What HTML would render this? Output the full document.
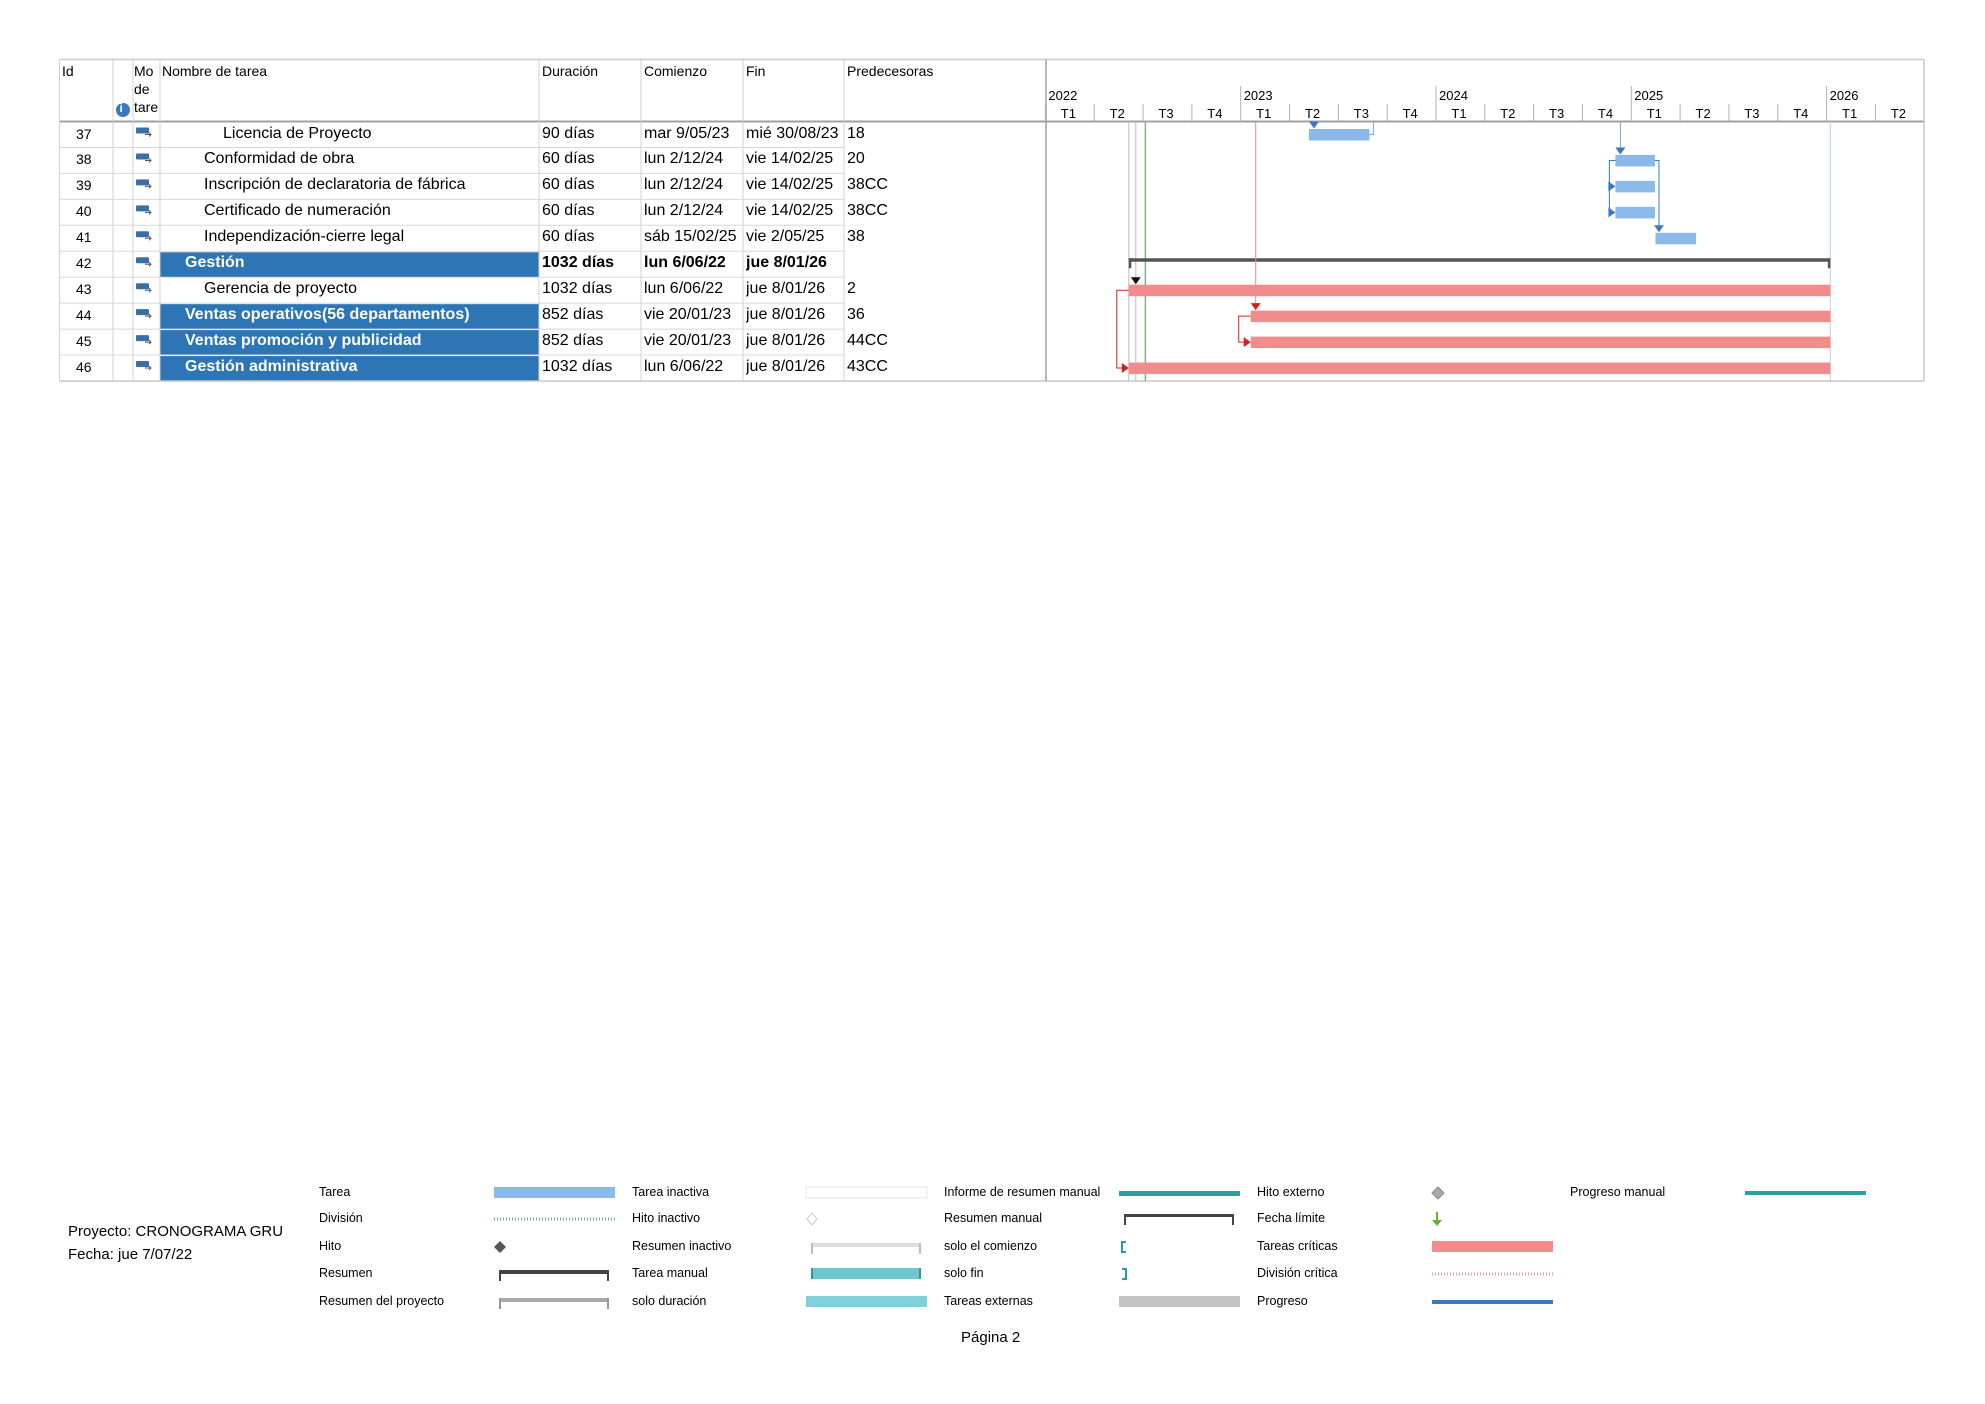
<!DOCTYPE html>
<html><head><meta charset="utf-8">
<style>
body{margin:0;background:#fff;font-family:"Liberation Sans",sans-serif;}
#root{position:relative;width:1985px;height:1404px;overflow:hidden;background:#fff;}
.t{position:absolute;white-space:nowrap;color:#000;}
.h{font-size:14px;}
.c{font-size:16px;}
.lg{font-size:12.5px;}
</style></head><body>
<div id="root">
<svg id="svg" width="1985" height="1404" style="position:absolute;left:0;top:0"></svg>
<div id="txt"></div>
</div>
<script>
const ids=["37","38","39","40","41","42","43","44","45","46"];
const names=["Licencia de Proyecto","Conformidad de obra","Inscripción de declaratoria de fábrica","Certificado de numeración","Independización-cierre legal","Gestión","Gerencia de proyecto","Ventas operativos(56 departamentos)","Ventas promoción y publicidad","Gestión administrativa"];
const indents=[2,1,1,1,1,0,1,0,0,0];
const durations=["90 días","60 días","60 días","60 días","60 días","1032 días","1032 días","852 días","852 días","1032 días"];
const startLabels=["mar 9/05/23","lun 2/12/24","lun 2/12/24","lun 2/12/24","sáb 15/02/25","lun 6/06/22","lun 6/06/22","vie 20/01/23","vie 20/01/23","lun 6/06/22"];
const endLabels=["mié 30/08/23","vie 14/02/25","vie 14/02/25","vie 14/02/25","vie 2/05/25","jue 8/01/26","jue 8/01/26","jue 8/01/26","jue 8/01/26","jue 8/01/26"];
const preds=["18","20","38CC","38CC","38","","2","36","44CC","43CC"];
const startDates=["2023-05-09","2024-12-02","2024-12-02","2024-12-02","2025-02-15","2022-06-06","2022-06-06","2023-01-20","2023-01-20","2022-06-06"];
const endDates=["2023-08-30","2025-02-14","2025-02-14","2025-02-14","2025-05-02","2026-01-08","2026-01-08","2026-01-08","2026-01-08","2026-01-08"];
const kinds=["task","task","task","task","task","summary","crit","crit","crit","crit"];
const highlighted=[false,false,false,false,false,true,false,true,true,true];
const years=["2022","2023","2024","2025","2026"];
const quarters=["T1","T2","T3","T4"];
const statusDate="2022-07-07";

const NS="http://www.w3.org/2000/svg";
const svg=document.getElementById('svg');
const txt=document.getElementById('txt');
const X0=1045.4,YEARW=195.3,T0=Date.UTC(2022,0,1);
function xd(s){const p=s.split('-');const d=Date.UTC(+p[0],+p[1]-1,+p[2]);return X0+(d-T0)/86400000/365.25*YEARW;}
const TOP=59.5,HB=121.5,RH=25.95;
function ry(i){return HB+i*RH;}
function el(tag,attrs,name){const e=document.createElementNS(NS,tag);for(const k in attrs)e.setAttribute(k,attrs[k]);


svg.appendChild(e);return e;}
function text(x,y,s,cls,name,style){const d=document.createElement('div');d.className='t '+cls;d.style.left=x+'px';d.style.top=y+'px';if(style)d.style.cssText+=style;d.textContent=s;


txt.appendChild(d);return d;}

// highlight cells
for(let i=0;i<ids.length;i++){if(highlighted[i])el('rect',{x:160,y:ry(i)+1,width:379,height:RH-1,fill:'#2e75b6'},'highlight-row-'+ids[i]);}
// grid
const colX=[59.5,113,133,160,539,641,743,844,1046];
el('line',{x1:59.5,y1:TOP,x2:1924,y2:TOP,stroke:'#c8c8c8','stroke-width':1.5},'top-border');
el('line',{x1:59.5,y1:HB,x2:1924,y2:HB,stroke:'#a0a0a0','stroke-width':2},'header-border');
el('line',{x1:59.5,y1:381,x2:1924,y2:381,stroke:'#c8c8c8','stroke-width':1.5},'bottom-border');
el('line',{x1:1924,y1:TOP,x2:1924,y2:381,stroke:'#c8c8c8','stroke-width':1.5},'right-border');
colX.forEach((x,k)=>el('line',{x1:x,y1:TOP,x2:x,y2:381,stroke:k==8?'#a0a0a0':'#d0d0d0','stroke-width':k==8?1.5:1},'column-divider'));
for(let i=1;i<ids.length;i++){el('line',{x1:59.5,y1:ry(i),x2:844,y2:ry(i),stroke:'#d8d8d8','stroke-width':1},'row-divider');}
// header text
text(62,63,'Id','h','id-header');
text(134,63,'Mo','h','mode-header',';width:26px;overflow:hidden');
text(134,81,'de','h','mode-header-2');
text(134,99,'tare','h','mode-header-3',';width:26px;overflow:hidden');
el('circle',{cx:123,cy:110,r:7,fill:'#3b78c2'},'info-icon');
text(119.5,101,'i','h','info-glyph',';color:#fff;font-weight:bold;font-size:12px');
text(162,63,'Nombre de tarea','h','name-header');
text(542,63,'Duración','h','duration-header');
text(644,63,'Comienzo','h','start-header');
text(746,63,'Fin','h','end-header');
text(847,63,'Predecesoras','h','predecessors-header');
// timescale
years.forEach((y,k)=>{const x=X0+k*YEARW;
 if(k>0)el('line',{x1:x,y1:86,x2:x,y2:HB,stroke:'#b0b0b0','stroke-width':1},'year-tick');
 text(x+3,88,y,'h','year-label-'+y,';font-size:13px');
 for(let q=0;q<4;q++){const qx=x+q*YEARW/4;if(qx>1922)break;
  if(q>0||k==0)el('line',{x1:qx+(k==0&&q==0?0:0),y1:104,x2:qx,y2:HB,stroke:'#b0b0b0','stroke-width':1},'quarter-tick');
  if(qx+YEARW/8<1922)text(qx+YEARW/8-9,106,quarters[q],'h','quarter-label',';font-size:13px');}
});
// rows text
for(let i=0;i<ids.length;i++){const y=ry(i)+3;const b=kinds[i]=='summary';const w=highlighted[i];
 text(76,y+1,ids[i],'c','task-id-'+ids[i],';font-size:14px');
 // mode icon
 el('rect',{x:136,y:ry(i)+6,width:13,height:6,fill:'#3b6ea8',rx:1},'task-mode-icon');
 el('path',{d:`M145 ${ry(i)+13} h6 m-2 -2 l2 2 l-2 2`,stroke:'#555',fill:'none','stroke-width':1},'task-mode-arrow');
 const nx=indents[i]==2?223:indents[i]==1?204:185;
 text(nx,y,names[i],'c','task-name-'+ids[i],w?';color:#fff;font-weight:bold':'');
 text(542,y,durations[i],'c','duration-'+ids[i],b?';font-weight:bold':'');
 text(644,y,startLabels[i],'c','start-'+ids[i],(b?';font-weight:bold':'')+';width:99px;overflow:hidden');
 text(746,y,endLabels[i],'c','end-'+ids[i],(b?';font-weight:bold':'')+';width:98px;overflow:hidden');
 text(847,y,preds[i],'c','pred-'+ids[i]);
}
// vertical lines in gantt
el('line',{x1:xd(startDates[5]),y1:HB,x2:xd(startDates[5]),y2:381,stroke:'#bbb','stroke-width':1},'project-start-line');
el('line',{x1:xd(startDates[5])+7,y1:HB,x2:xd(startDates[5])+7,y2:381,stroke:'#bbb','stroke-width':1},'guide-line');
el('line',{x1:xd(endDates[5]),y1:HB,x2:xd(endDates[5]),y2:381,stroke:'#c0d0d0','stroke-width':1},'project-end-line');
el('line',{x1:xd(statusDate),y1:HB,x2:xd(statusDate),y2:381,stroke:'#7cba7c','stroke-width':1.5},'status-date-line');
// bars
const barX=[],barE=[];
for(let i=0;i<ids.length;i++){const x1=xd(startDates[i]),x2=xd(endDates[i]);barX.push(x1);barE.push(x2);const t=ry(i);
 if(kinds[i]=='summary'){
  el('rect',{x:x1,y:t+7,width:x2-x1,height:3.5,fill:'#555'},'summary-bar-'+ids[i]);
  el('rect',{x:x1,y:t+7,width:2.5,height:10,fill:'#555'},'summary-cap-start');
  el('rect',{x:x2-2.5,y:t+7,width:2.5,height:10,fill:'#555'},'summary-cap-end');
 }else{
  el('rect',{x:x1,y:t+7.5,width:x2-x1,height:11.5,fill:kinds[i]=='crit'?'#f28b8b':'#8bb9ea'},'bar-'+ids[i]);
 }}
// links
const blue='#3b78c2',red='#d02020';
function arrowDown(x,y,c,n){el('path',{d:`M${x-5} ${y-7} L${x+5} ${y-7} L${x} ${y} Z`,fill:c},n);}
function arrowRight(x,y,c,n){el('path',{d:`M${x-7} ${y-5} L${x-7} ${y+5} L${x} ${y} Z`,fill:c},n);}
// 37: pred 18 arrow from top, end connector
arrowDown(barX[0]+5,ry(0)+7,blue,'link-arrow-37');
el('path',{d:`M${barE[0]} ${ry(0)+13} h4 v-12`,stroke:'#7aa6d8',fill:'none'},'link-37-out');
// 38 from 20
el('line',{x1:barX[1]+5,y1:HB,x2:barX[1]+5,y2:ry(1)+2,stroke:'#7aa6d8'},'link-20-38');
arrowDown(barX[1]+5,ry(1)+7,blue,'link-arrow-38');
// 38 -> 39,40 SS
el('path',{d:`M${barX[1]} ${ry(1)+13} h-6 v${RH*2}`,stroke:blue,fill:'none'},'link-38-ss');
el('path',{d:`M${barX[1]-6} ${ry(2)+13} h4`,stroke:blue},'link-38-39');
arrowRight(barX[2],ry(2)+13,blue,'link-arrow-39');
arrowRight(barX[3],ry(3)+13,blue,'link-arrow-40');
// 38 -> 41
el('path',{d:`M${barE[1]} ${ry(1)+13} h4 v${RH*3-10}`,stroke:blue,fill:'none'},'link-38-41');
arrowDown(barE[1]+4,ry(4)+7,blue,'link-arrow-41');
// 43
arrowDown(barX[6]+7,ry(6)+7,'#111','link-arrow-43');
// 44 from 36
el('line',{x1:barX[7]+5,y1:HB,x2:barX[7]+5,y2:ry(7)+2,stroke:'#d89090'},'link-36-44');
arrowDown(barX[7]+5,ry(7)+7,red,'link-arrow-44');
// 44 -> 45
el('path',{d:`M${barX[7]} ${ry(7)+13} h-12 v${RH} h6`,stroke:red,fill:'none'},'link-44-45');
arrowRight(barX[8],ry(8)+13,red,'link-arrow-45');
// 43 -> 46
el('path',{d:`M${barX[6]} ${ry(6)+13} h-12 v${RH*3} h6`,stroke:red,fill:'none'},'link-43-46');
arrowRight(barX[9],ry(9)+13,red,'link-arrow-46');

// legend
const legRows=[1193,1219,1247,1274,1302];
const legCols=[[319,494],[632,806],[944,1119],[1257,1432],[1570,1745]];
const legNames=[["Tarea","División","Hito","Resumen","Resumen del proyecto"],["Tarea inactiva","Hito inactivo","Resumen inactivo","Tarea manual","solo duración"],["Informe de resumen manual","Resumen manual","solo el comienzo","solo fin","Tareas externas"],["Hito externo","Fecha límite","Tareas críticas","División crítica","Progreso"],["Progreso manual"]];
legNames.forEach((col,c)=>col.forEach((n,r)=>{text(legCols[c][0],legRows[r]-8,n,'lg','legend-label');
 const sx=legCols[c][1],cy=legRows[r],W=121;const key=c+'-'+r;
 const sw={
 '0-0':()=>el('rect',{x:sx,y:cy-6,width:W,height:11,fill:'#8bb9ea'},'legend-swatch'),
 '0-1':()=>el('line',{x1:sx,y1:cy,x2:sx+W,y2:cy,stroke:'#6aa','stroke-width':3,'stroke-dasharray':'1 2'},'legend-swatch'),
 '0-2':()=>el('path',{d:`M${sx+6} ${cy-6} l6 6 l-6 6 l-6 -6 Z`,fill:'#555'},'legend-swatch'),
 '0-3':()=>{el('rect',{x:sx+5,y:cy-4,width:110,height:4,fill:'#444'},'legend-swatch');el('rect',{x:sx+5,y:cy-4,width:2,height:11,fill:'#444'},'legend-cap');el('rect',{x:sx+113,y:cy-4,width:2,height:11,fill:'#444'},'legend-cap');},
 '0-4':()=>{el('rect',{x:sx+5,y:cy-4,width:110,height:4,fill:'#aaa'},'legend-swatch');el('rect',{x:sx+5,y:cy-4,width:2,height:11,fill:'#999'},'legend-cap');el('rect',{x:sx+113,y:cy-4,width:2,height:11,fill:'#999'},'legend-cap');},
 '1-0':()=>el('rect',{x:sx,y:cy-6,width:W,height:11,fill:'#fff',stroke:'#e4e4e4'},'legend-swatch'),
 '1-1':()=>el('path',{d:`M${sx+6} ${cy-6} l5 6 l-5 6 l-5 -6 Z`,fill:'#fff',stroke:'#ccc'},'legend-swatch'),
 '1-2':()=>{el('rect',{x:sx+5,y:cy-4,width:110,height:4,fill:'#ddd'},'legend-swatch');el('rect',{x:sx+5,y:cy-4,width:2,height:11,fill:'#bbb'},'legend-cap');el('rect',{x:sx+113,y:cy-4,width:2,height:11,fill:'#bbb'},'legend-cap');},
 '1-3':()=>{el('rect',{x:sx+5,y:cy-6,width:110,height:11,fill:'#6fc6cf'},'legend-swatch');el('rect',{x:sx+5,y:cy-6,width:2,height:11,fill:'#2a9a9a'},'legend-cap');el('rect',{x:sx+113,y:cy-6,width:2,height:11,fill:'#2a9a9a'},'legend-cap');},
 '1-4':()=>el('rect',{x:sx,y:cy-6,width:W,height:11,fill:'#7fd0d8'},'legend-swatch'),
 '2-0':()=>el('rect',{x:sx,y:cy-2,width:W,height:5,fill:'#2e9e9e'},'legend-swatch'),
 '2-1':()=>{el('rect',{x:sx+5,y:cy-5,width:110,height:3,fill:'#444'},'legend-swatch');el('rect',{x:sx+5,y:cy-5,width:2,height:11,fill:'#444'},'legend-cap');el('rect',{x:sx+113,y:cy-5,width:2,height:11,fill:'#444'},'legend-cap');},
 '2-2':()=>el('path',{d:`M${sx+7} ${cy-5} h-4 v10 h4`,stroke:'#2a9a9a',fill:'none','stroke-width':2},'legend-swatch'),
 '2-3':()=>el('path',{d:`M${sx+3} ${cy-5} h4 v10 h-4`,stroke:'#2a9a9a',fill:'none','stroke-width':2},'legend-swatch'),
 '2-4':()=>el('rect',{x:sx,y:cy-6,width:W,height:11,fill:'#c4c4c4'},'legend-swatch'),
 '3-0':()=>el('path',{d:`M${sx+6} ${cy-6} l6 6 l-6 6 l-6 -6 Z`,fill:'#aaa',stroke:'#888'},'legend-swatch'),
 '3-1':()=>el('path',{d:`M${sx+4} ${cy-7} v8 h-4 l5 6 l5 -6 h-4 v-8 Z`,fill:'#6ab030'},'legend-swatch'),
 '3-2':()=>el('rect',{x:sx,y:cy-6,width:W,height:11,fill:'#f28b8b'},'legend-swatch'),
 '3-3':()=>el('line',{x1:sx,y1:cy,x2:sx+W,y2:cy,stroke:'#e8a0a0','stroke-width':3,'stroke-dasharray':'1 2'},'legend-swatch'),
 '3-4':()=>el('rect',{x:sx,y:cy-2,width:W,height:4,fill:'#3b78c2'},'legend-swatch'),
 '4-0':()=>el('rect',{x:sx,y:cy-2,width:W,height:4,fill:'#2e9e9e'},'legend-swatch')};
 sw[key]();
}));
text(68,1223,'Proyecto: CRONOGRAMA GRU','c','project-name',';font-size:15px');
text(68,1246,'Fecha: jue 7/07/22','c','project-date',';font-size:15px');
text(961,1329,'Página 2','c','page-number',';font-size:15px');
</script>
</body></html>
